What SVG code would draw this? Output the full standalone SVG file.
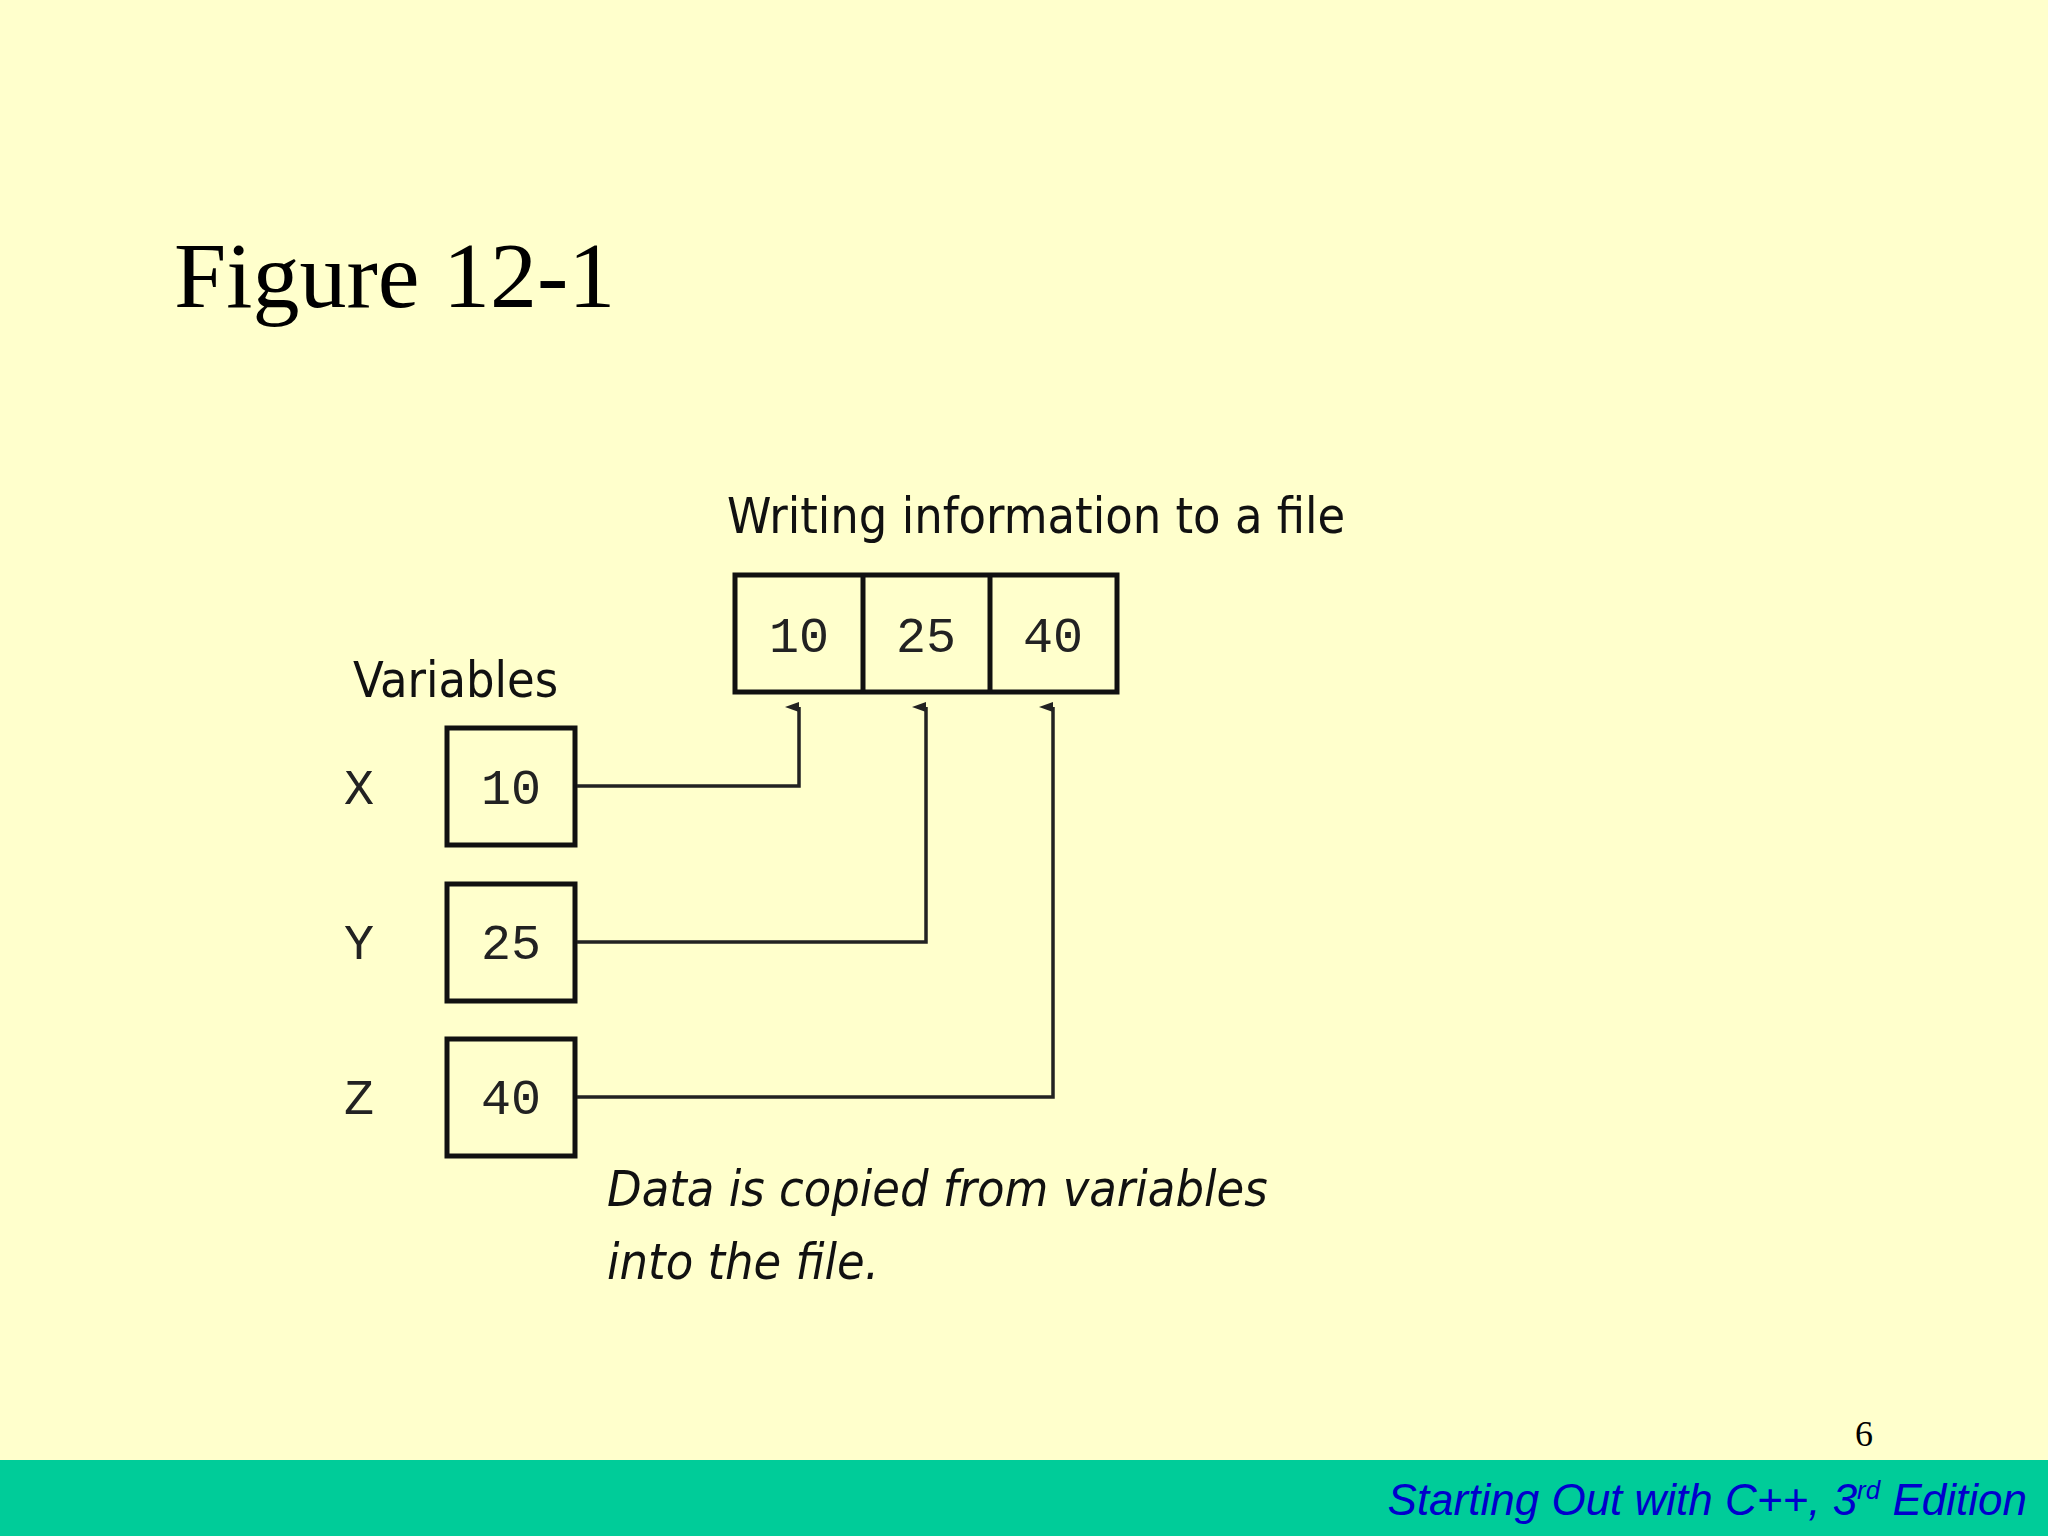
<svg xmlns="http://www.w3.org/2000/svg" width="2048" height="1536" viewBox="0 0 2048 1536">
<defs>
<style>
.box{fill:none;stroke:#111;stroke-width:5}
.num{font-family:"Liberation Mono",monospace;font-size:50px;fill:#222;text-anchor:middle}
.lbl{font-family:"DejaVu Sans Condensed","Liberation Sans",sans-serif;font-size:50px;fill:#111}
.conn{fill:none;stroke:#222;stroke-width:3.5}
</style>
<marker id="ah" markerWidth="10" markerHeight="14" refX="5" refY="14" orient="auto" markerUnits="userSpaceOnUse" viewBox="0 0 10 14"><path d="M0,14 L5,0 L10,14 Z" fill="#222"/></marker>
</defs>
<rect width="2048" height="1536" fill="#FFFFCC"/>
<rect y="1460" width="2048" height="76" fill="#00CC99"/>
<text x="174" y="307" font-family="Liberation Serif,serif" font-size="94" fill="#000">Figure 12-1</text>
<text x="727" y="533" class="lbl">Writing information to a file</text>
<g id="file">
<rect x="735" y="575" width="382" height="117" class="box"/>
<line x1="863" y1="575" x2="863" y2="692" class="box"/>
<line x1="990" y1="575" x2="990" y2="692" class="box"/>
<text x="799" y="652" class="num">10</text>
<text x="926" y="652" class="num">25</text>
<text x="1053" y="652" class="num">40</text>
</g>
<text x="353" y="697" class="lbl">Variables</text>
<g id="x"><text x="359" y="804" class="num">X</text><rect x="447" y="728" width="128" height="117" class="box"/><text x="511" y="804" class="num">10</text></g>
<g id="y"><text x="359" y="959" class="num">Y</text><rect x="447" y="884" width="128" height="117" class="box"/><text x="511" y="959" class="num">25</text></g>
<g id="z"><text x="359" y="1114" class="num">Z</text><rect x="447" y="1039" width="128" height="117" class="box"/><text x="511" y="1114" class="num">40</text></g>
<g id="connectors">
<polyline points="577,786 799,786 799,707" class="conn" marker-end="url(#ah)"/>
<polyline points="577,942 926,942 926,707" class="conn" marker-end="url(#ah)"/>
<polyline points="577,1097 1053,1097 1053,707" class="conn" marker-end="url(#ah)"/>
</g>
<text x="607" y="1206" class="lbl" font-style="italic">Data is copied from variables</text>
<text x="607" y="1279" class="lbl" font-style="italic">into the file.</text>
<text x="1864" y="1446" font-family="Liberation Serif,serif" font-size="36" text-anchor="middle" fill="#000">6</text>
<text x="2027" y="1515" text-anchor="end" font-family="Liberation Sans,sans-serif" font-style="italic" font-size="44" fill="#0000CC">Starting Out with C++, 3<tspan font-size="26" dy="-16">rd</tspan><tspan dy="16"> Edition</tspan></text>
</svg>
